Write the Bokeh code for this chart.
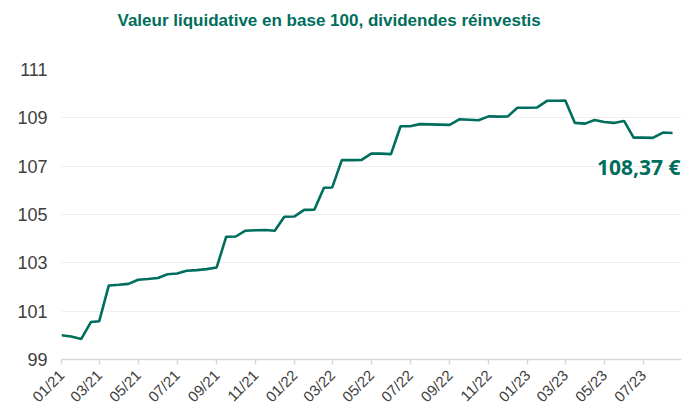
import datetime as dt
from bokeh.plotting import figure
from bokeh.models import Range1d, FixedTicker, DatetimeTickFormatter, Label, ColumnDataSource, Title
from bokeh.embed import file_html
from bokeh.resources import INLINE

# Semi-monthly dates, Jan 2021 -> mid Aug 2023
months = [(y, m) for y in (2021, 2022, 2023) for m in range(1, 13)][:32]
dates = []
for (y, m) in months:
    dates.append(dt.datetime(y, m, 1))
    dates.append(dt.datetime(y, m, 16))

values = [
    100.00, 99.95, 99.85, 100.55, 100.58, 102.06, 102.09, 102.13,
    102.30, 102.33, 102.37, 102.53, 102.56, 102.67, 102.70, 102.74,
    102.81, 104.08, 104.09, 104.33, 104.35, 104.36, 104.33, 104.91,
    104.92, 105.19, 105.20, 106.11, 106.12, 107.25, 107.25, 107.26,
    107.52, 107.52, 107.50, 108.65, 108.65, 108.74, 108.73, 108.72,
    108.71, 108.94, 108.92, 108.90, 109.06, 109.05, 109.06, 109.42,
    109.42, 109.43, 109.71, 109.71, 109.72, 108.79, 108.76, 108.91,
    108.83, 108.79, 108.87, 108.18, 108.18, 108.17, 108.39, 108.37,
]

y_ticks = [99, 101, 103, 105, 107, 109, 111]
x_tick_dates = [dt.datetime(y, m, 1) for (y, m) in months if m % 2 == 1][:16]

title_text = "Valeur liquidative en base 100, dividendes réinvestis"
last_label = "108,37 €"

TEAL = "#006e5c"

p = figure(width=696, height=414, x_axis_type="datetime",
           output_backend="svg", toolbar_location=None,
           min_border_left=61, min_border_right=15,
           min_border_top=69, min_border_bottom=54)

# small room on the right so the end label is not clipped
p.x_range = Range1d(dates[0], dates[-1] + dt.timedelta(days=14))
p.y_range = Range1d(99, 111)

src = ColumnDataSource(dict(x=dates, y=values))
p.line("x", "y", source=src, line_color=TEAL, line_width=2.6)

p.outline_line_color = None
p.background_fill_color = "white"

# grid
p.xgrid.grid_line_color = None
p.ygrid.grid_line_color = "#efefef"
p.ygrid.grid_line_width = 1

# y axis
p.yaxis.ticker = FixedTicker(ticks=y_ticks)
p.yaxis.axis_line_color = None
p.yaxis.major_tick_line_color = None
p.yaxis.minor_tick_line_color = None
p.yaxis.major_tick_out = 0
p.yaxis.major_tick_in = 0
p.yaxis.major_label_text_font = "Liberation Sans"
p.yaxis.major_label_text_font_size = "18px"
p.yaxis.major_label_text_color = "#404040"
p.yaxis.major_label_standoff = 14

# x axis
p.xaxis.ticker = FixedTicker(ticks=[(d - dt.datetime(1970, 1, 1)).total_seconds() * 1000 for d in x_tick_dates])
p.xaxis.formatter = DatetimeTickFormatter(days="%m/%y", months="%m/%y", years="%m/%y")
p.xaxis.axis_line_color = "#d9d9d9"
p.xaxis.axis_line_width = 1.5
p.xaxis.major_tick_line_color = "#d9d9d9"
p.xaxis.major_tick_line_width = 1.5
p.xaxis.major_tick_in = 0
p.xaxis.major_tick_out = 5
p.xaxis.minor_tick_line_color = None
p.xaxis.major_label_orientation = 0.785398
p.xaxis.major_label_text_font = "Liberation Sans"
p.xaxis.major_label_text_font_size = "15px"
p.xaxis.major_label_text_color = "#404040"
p.xaxis.major_label_standoff = 8

# real title
p.title.text = title_text
p.title.text_font = "Liberation Sans"
p.title.text_font_style = "bold"
p.title.text_font_size = "17px"
p.title.text_color = TEAL
p.title.align = "left"
p.title.offset = 56

# spacer between title and frame
p.add_layout(Title(text=" ", text_font_size="30px", standoff=0), "above")

# last value annotation
lab = Label(x=dates[-1], y=values[-1] - 1.41, text=last_label,
            text_font="Open Sans", text_font_style="bold", text_font_size="21px",
            text_color=TEAL, text_align="right", text_baseline="middle",
            x_offset=8)
p.add_layout(lab)

open("out.html", "w").write(file_html(p, INLINE))
